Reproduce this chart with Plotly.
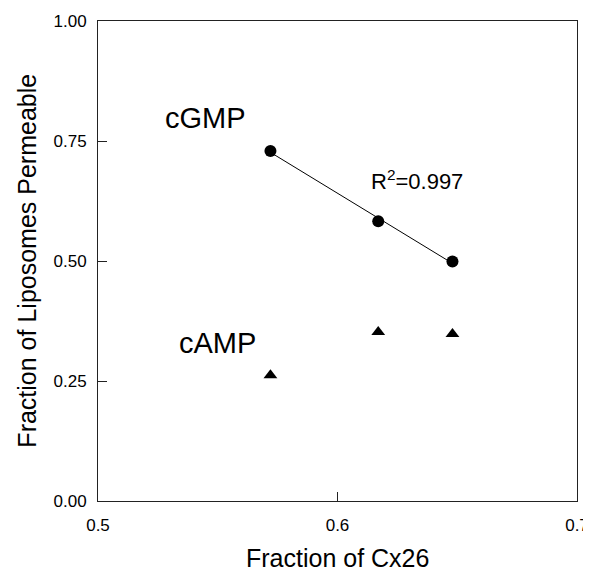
import numpy as np
import plotly.graph_objects as go

cx26_frac = [0.572, 0.617, 0.648]
cgmp = [0.729, 0.583, 0.499]
camp = [0.262, 0.352, 0.348]
x_ticks = [0.5, 0.6, 0.7]
x_tick_text = ["0.5", "0.6", "0.7"]
y_ticks = [0.0, 0.25, 0.5, 0.75, 1.0]
y_tick_text = ["0.00", "0.25", "0.50", "0.75", "1.00"]

slope, intercept = np.polyfit(cx26_frac, cgmp, 1)
fit_x = [min(cx26_frac), max(cx26_frac)]
fit_y = [slope * v + intercept for v in fit_x]

fig = go.Figure()
fig.add_trace(go.Scatter(x=fit_x, y=fit_y, mode="lines",
                         line=dict(color="black", width=1), showlegend=False))
fig.add_trace(go.Scatter(x=cx26_frac, y=cgmp, mode="markers",
                         marker=dict(symbol="circle", size=12, color="black"), showlegend=False))
fig.add_trace(go.Scatter(x=cx26_frac, y=camp, mode="markers",
                         marker=dict(symbol="triangle-up", size=12, color="black"), showlegend=False))

font = "Liberation Sans, Arial, sans-serif"
fig.add_annotation(x=0.5448, y=0.797, text="cGMP", showarrow=False,
                   font=dict(size=29, color="black", family=font))
fig.add_annotation(x=0.5497, y=0.330, text="cAMP", showarrow=False,
                   font=dict(size=29, color="black", family=font))
fig.add_annotation(x=0.633, y=0.668, text="R<sup>2</sup>=0.997", showarrow=False,
                   font=dict(size=22, color="black", family=font))
# axis titles
fig.add_annotation(xref="paper", yref="paper", x=0.5, y=-0.118, text="Fraction of Cx26",
                   showarrow=False, xanchor="center", yanchor="middle",
                   font=dict(size=25, color="black", family=font))
fig.add_annotation(xref="paper", yref="paper", x=-0.149, y=0.5,
                   text="Fraction of Liposomes Permeable", textangle=-90,
                   showarrow=False, xanchor="center", yanchor="middle",
                   font=dict(size=25, color="black", family=font))

axis_common = dict(showgrid=False, zeroline=False, showline=True, linecolor="#222",
                   linewidth=1, mirror=True, ticks="inside", ticklen=9, tickcolor="#222",
                   automargin=False, ticklabeloverflow="allow",
                   tickfont=dict(size=17, color="black", family=font))
fig.update_xaxes(range=[0.5, 0.7], tickvals=x_ticks, ticktext=x_tick_text,
                 ticklabelstandoff=9, **axis_common)
fig.update_yaxes(range=[0, 1], tickvals=y_ticks, ticktext=y_tick_text,
                 ticklabelstandoff=7, **axis_common)
# page body adds an 8px offset; size/margins compensate for it
fig.update_layout(width=583, height=561, margin=dict(l=90, r=14, t=13, b=68, autoexpand=False),
                  plot_bgcolor="white", paper_bgcolor="white", showlegend=False)
fig.write_html("out.html")
